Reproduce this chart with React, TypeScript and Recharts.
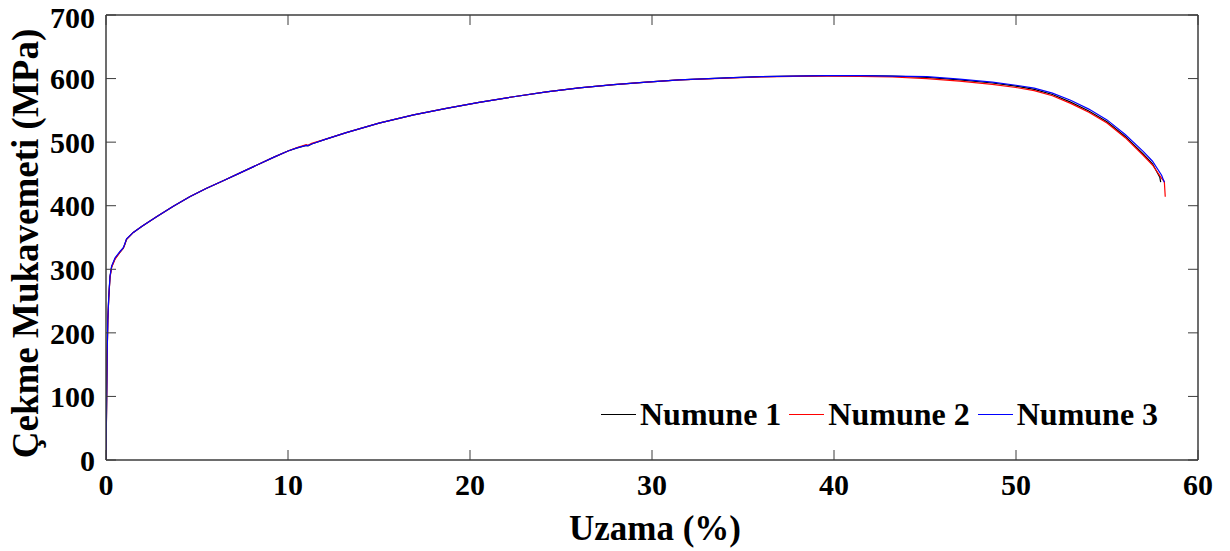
import React from 'react';
import { LineChart, Line, XAxis, YAxis, Legend } from 'recharts';

// Numune 1 (black)
const strain1 = [0, 0.03, 0.06, 0.1, 0.15, 0.22, 0.31, 0.5, 0.77, 0.95, 1.02, 1.13, 1.5, 2.0, 2.8, 3.7, 4.6, 5.5, 6.5, 7.4, 8.3, 9.2, 10.0, 10.5, 11.0, 11.1, 11.3, 12.0, 13.2, 15.0, 16.9, 18.7, 20.5, 22.3, 24.2, 26.0, 27.9, 29.7, 31.5, 34.1, 36.0, 37.8, 39.6, 41.4, 43.2, 45.1, 46.9, 48.7, 50.0, 51.0, 52.0, 53.0, 54.0, 55.0, 56.0, 57.0, 57.5, 57.9, 57.95];
const stress1 = [0, 80, 160, 220, 255, 288, 304, 317, 327, 333, 338, 347, 358, 368, 383, 399, 414, 427, 440, 452, 464, 476, 486, 491, 495, 494, 497, 504, 515, 530, 543, 553, 562.5, 571, 579, 585.5, 590.5, 594.5, 598, 601, 603, 604, 604.5, 604.5, 604, 602, 598, 593, 588, 583, 575, 563, 549, 532, 509, 481, 466, 445, 437];

// Numune 2 (red)
const strain2 = [0, 0.03, 0.06, 0.1, 0.15, 0.22, 0.31, 0.5, 0.77, 0.95, 1.02, 1.13, 1.5, 2.0, 2.8, 3.7, 4.6, 5.5, 6.5, 7.4, 8.3, 9.2, 10.0, 10.5, 11.0, 11.1, 11.3, 12.0, 13.2, 15.0, 16.9, 18.7, 20.5, 22.3, 24.2, 26.0, 27.9, 29.7, 31.5, 34.1, 36.0, 37.8, 39.6, 41.4, 43.2, 45.1, 46.9, 48.7, 50.0, 51.0, 52.0, 53.0, 54.0, 55.0, 56.0, 57.0, 57.5, 58.0, 58.15, 58.2];
const stress2 = [0, 78, 158, 219, 254, 287, 303, 316, 327, 333, 338, 347, 358, 368, 383, 399, 414, 427, 440, 452, 464, 476, 486, 491.5, 496, 495, 498, 504, 515, 530, 543, 553, 562.5, 571, 579, 585.5, 590.5, 594.5, 598, 600.5, 602.5, 603.5, 604, 603.5, 602.5, 600, 596, 591, 586, 581, 573, 561, 547, 530, 507, 479, 464, 443, 438, 414];

// Numune 3 (blue)
const strain3 = [0, 0.03, 0.06, 0.1, 0.15, 0.22, 0.31, 0.5, 0.77, 0.95, 1.02, 1.13, 1.5, 2.0, 2.8, 3.7, 4.6, 5.5, 6.5, 7.4, 8.3, 9.2, 10.0, 10.5, 11.0, 11.1, 11.3, 12.0, 13.2, 15.0, 16.9, 18.7, 20.5, 22.3, 24.2, 26.0, 27.9, 29.7, 31.5, 34.1, 36.0, 37.8, 39.6, 41.4, 43.2, 45.1, 46.9, 48.7, 50.0, 51.0, 52.0, 53.0, 54.0, 55.0, 56.0, 57.0, 57.5, 58.0, 58.15];
const stress3 = [0, 82, 162, 221, 256, 289, 305, 318, 328, 334, 339, 348, 358, 368, 383, 399, 414, 427, 440, 452, 464, 476, 486, 491, 495, 494.5, 497, 504, 515, 530, 543, 553, 562.5, 571, 579, 585.5, 590.5, 594.5, 598, 601, 603, 604, 604.5, 604.5, 604, 603, 599, 594.5, 589.5, 585, 577, 566, 552, 535, 512, 485, 470, 448, 437];

const seriesNames = ['Numune 1', 'Numune 2', 'Numune 3'];
const seriesColors = ['#000000', '#ff0000', '#0000ff'];

const xTicks = [0, 10, 20, 30, 40, 50, 60];
const yTicks = [0, 100, 200, 300, 400, 500, 600, 700];

const xTitle = 'Uzama (%)';
const yTitle = 'Çekme Mukavemeti (MPa)';

const toRows = (xs: number[], ys: number[]) => xs.map((x, i) => ({ x, y: ys[i] }));
const seriesData = [toRows(strain1, stress1), toRows(strain2, stress2), toRows(strain3, stress3)];

const FONT = '"Liberation Serif", "Times New Roman", serif';
const AXIS_COLOR = '#3c3c3c';
const tickStyle = { fontFamily: FONT, fontWeight: 700, fontSize: 30, fill: '#000' };

const YTitleLabel = (props: any) => {
  const vb = props.viewBox || { x: 0, y: 0, width: 0, height: 0 };
  const x = vb.x + 38;
  const y = vb.y + vb.height / 2 + 6;
  return (
    <text x={x} y={y} transform={`rotate(-90, ${x}, ${y})`} textAnchor="middle"
      style={{ fontFamily: FONT, fontWeight: 700, fontSize: 37, fill: '#000' }}>
      {yTitle}
    </text>
  );
};

const XTitleLabel = (props: any) => {
  const vb = props.viewBox || { x: 0, y: 0, width: 0, height: 0 };
  const x = vb.x + vb.width / 2 + 3;
  const y = vb.y + 80;
  return (
    <text x={x} y={y} textAnchor="middle"
      style={{ fontFamily: FONT, fontWeight: 700, fontSize: 35, fill: '#000' }}>
      {xTitle}
    </text>
  );
};

const renderLegend = () => (
  <div style={{ display: 'flex', alignItems: 'center', fontFamily: FONT, fontWeight: 700, fontSize: 32, lineHeight: '32px', color: '#000', whiteSpace: 'nowrap' }}>
    {seriesNames.map((name, i) => (
      <div key={name} style={{ display: 'flex', alignItems: 'center', marginRight: 8 }}>
        <span style={{ display: 'inline-block', width: 35, height: 0, borderTop: `1px solid ${seriesColors[i]}`, marginRight: 4 }} />
        <span>{name}</span>
      </div>
    ))}
  </div>
);

export default function App() {
  return (
    <div style={{ position: 'absolute', left: 0, top: 0 }}>
      <LineChart width={1230} height={551} margin={{ top: 14, right: 31, bottom: 11, left: 0 }}>
        <XAxis xAxisId="b" type="number" dataKey="x" domain={[0, 60]} ticks={xTicks} allowDataOverflow
          orientation="bottom" height={80} tickSize={-10} tickMargin={24}
          stroke={AXIS_COLOR} axisLine={{ stroke: AXIS_COLOR, strokeWidth: 1.5 }}
          tickLine={{ stroke: AXIS_COLOR, strokeWidth: 1 }} tick={tickStyle}
          label={<XTitleLabel />} />
        <XAxis xAxisId="t" type="number" dataKey="x" domain={[0, 60]} ticks={xTicks} allowDataOverflow
          orientation="top" height={1} tickSize={-10} tickFormatter={() => ''}
          axisLine={{ stroke: AXIS_COLOR, strokeWidth: 1.5 }}
          tickLine={{ stroke: AXIS_COLOR, strokeWidth: 1 }} />
        <YAxis yAxisId="l" type="number" domain={[0, 700]} ticks={yTicks} allowDataOverflow
          orientation="left" width={106} tickSize={-10} tickMargin={21}
          axisLine={{ stroke: AXIS_COLOR, strokeWidth: 1.5 }}
          tickLine={{ stroke: AXIS_COLOR, strokeWidth: 1 }} tick={tickStyle}
          label={<YTitleLabel />} />
        <YAxis yAxisId="r" type="number" domain={[0, 700]} ticks={yTicks} allowDataOverflow
          orientation="right" width={1} tickSize={-10} tickFormatter={() => ''}
          axisLine={{ stroke: AXIS_COLOR, strokeWidth: 1.5 }}
          tickLine={{ stroke: AXIS_COLOR, strokeWidth: 1 }} />
        <Line xAxisId="t" yAxisId="r" data={seriesData[0]} dataKey="y" stroke="none" dot={false}
          isAnimationActive={false} legendType="none" />
        {seriesData.map((d, i) => (
          <Line key={seriesNames[i]} xAxisId="b" yAxisId="l" data={d} dataKey="y" name={seriesNames[i]}
            type="linear" stroke={seriesColors[i]} strokeWidth={1.2} dot={false} activeDot={false}
            isAnimationActive={false} />
        ))}
        <Legend verticalAlign="middle" layout="horizontal" align="center" content={renderLegend}
          wrapperStyle={{ left: 601, top: 398, width: 'auto', right: 'auto', bottom: 'auto' }} />
      </LineChart>
    </div>
  );
}
